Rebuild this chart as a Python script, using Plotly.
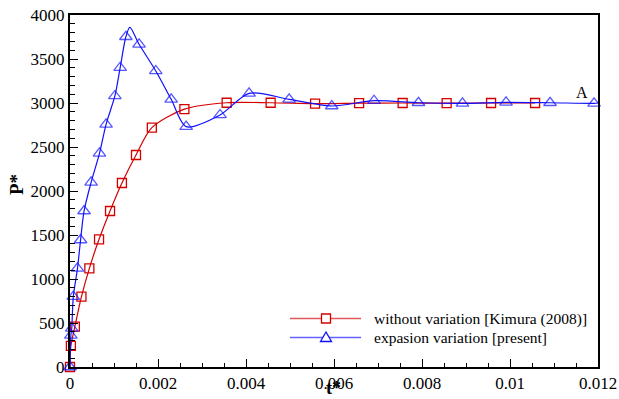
import plotly.graph_objects as go

# Dimensionless time and pressure, reference case (Kimura 2008)
t_kimura = [0.0, 0.00002, 0.00011, 0.00026, 0.00044, 0.00066, 0.00091, 0.00118,
            0.0015, 0.00186, 0.0026, 0.00356, 0.00456, 0.00557, 0.00657, 0.00756,
            0.00856, 0.00957, 0.01057]
p_kimura = [0, 239, 458, 799, 1121, 1451, 1773, 2091,
            2409, 2720, 2930, 3003, 3003, 2992, 2998, 3000,
            2998, 3000, 3000]

# Dimensionless time and pressure with expansion variation (present model)
t_present = [0.0, 0.00002, 0.00004, 0.000075, 0.00017, 0.00024, 0.00032, 0.00048,
             0.00067, 0.00082, 0.00102, 0.00114, 0.00127, 0.00136, 0.00157, 0.00195,
             0.0023, 0.00264, 0.00341, 0.00407, 0.00498, 0.00595, 0.00691, 0.00792,
             0.00892, 0.00991, 0.01091, 0.01191, 0.012]
p_present = [0, 360, 440, 799, 1121, 1443, 1773, 2099,
             2428, 2758, 3080, 3401, 3753, 3860, 3667, 3364,
             3042, 2731, 2864, 3110, 3042, 2966, 3026, 3003,
             2996, 3008, 3003, 2996, 3000]
# symbol drawn at every stored point except the curve peak and the end point
present_symbol = [True] * 13 + [False] + [True] * 14 + [False]

x_ticks = [0, 0.002, 0.004, 0.006, 0.008, 0.01, 0.012]
x_tick_text = ["0", "0.002", "0.004", "0.006", "0.008", "0.01", "0.012"]
y_ticks = [0, 500, 1000, 1500, 2000, 2500, 3000, 3500, 4000]

label_kimura = "without variation [Kimura (2008)]"
label_present = "expasion variation [present]"

RED = "#d40000"
BLUE = "#1010ff"
SERIF = "Liberation Serif"

fig = go.Figure()

fig.add_trace(go.Scatter(
    x=t_kimura, y=p_kimura, mode="lines+markers", name=label_kimura,
    line=dict(color=RED, width=1.2, shape="spline", smoothing=0.8),
    marker=dict(symbol="square-open", size=9, color=RED, line=dict(width=1.3)),
    showlegend=False, cliponaxis=False,
))

fig.add_trace(go.Scatter(
    x=t_present, y=p_present, mode="lines+markers", name=label_present,
    line=dict(color=BLUE, width=1.2, shape="spline", smoothing=0.8),
    marker=dict(symbol="triangle-up-open", size=[11 if s else 0 for s in present_symbol],
                color=BLUE, line=dict(width=1.3)),
    showlegend=False, cliponaxis=False,
))

# plot area in pixels: x 70..598, y 15..367
L, R, T, B = 70, 21, 15, 32
W, H = 619, 399
pw, ph = W - L - R, H - T - B


def px(x):
    return (x - L) / pw


def py(y):
    return (H - B - y) / ph


shapes = []
annotations = []

# legend block
leg_rows = [(318.5, RED, label_kimura, "square"), (337.5, BLUE, label_present, "triangle")]
for yy, col, text, sym in leg_rows:
    shapes.append(dict(type="line", xref="paper", yref="paper",
                       x0=px(290), x1=px(361), y0=py(yy), y1=py(yy),
                       line=dict(color=col, width=1.4), opacity=0.65))
    if sym == "square":
        shapes.append(dict(type="rect", xref="paper", yref="paper",
                           x0=px(321.5), x1=px(330.5), y0=py(yy + 4.5), y1=py(yy - 4.5),
                           line=dict(color=col, width=1.3), fillcolor="white"))
    else:
        path = (f"M {px(320.5)} {py(yy + 4)} L {px(331.5)} {py(yy + 4)} "
                f"L {px(326)} {py(yy - 5.5)} Z")
        shapes.append(dict(type="path", xref="paper", yref="paper", path=path,
                           line=dict(color=col, width=1.3), fillcolor="white"))
    annotations.append(dict(x=px(372), y=py(yy), xref="paper", yref="paper",
                            text=text, showarrow=False, xanchor="left", yanchor="middle",
                            font=dict(family=SERIF, size=15.5, color="black")))

# axis titles
annotations.append(dict(x=px(16), y=py(185), xref="paper", yref="paper", text="<b>P*</b>",
                        textangle=-90, showarrow=False, xanchor="center", yanchor="middle",
                        font=dict(family=SERIF, size=19, color="black")))
annotations.append(dict(x=px(333), y=py(387.5), xref="paper", yref="paper", text="<b>t*</b>",
                        showarrow=False, xanchor="center", yanchor="middle", borderpad=0,
                        font=dict(family=SERIF, size=18, color="black")))
# point label
annotations.append(dict(x=0.01163, y=3114, xref="x", yref="y", text="A", showarrow=False,
                        xanchor="center", yanchor="middle",
                        font=dict(family=SERIF, size=16, color="black")))

axis_common = dict(
    showgrid=False, zeroline=False, showline=True, linecolor="black", linewidth=2,
    mirror=True, ticks="inside", ticklen=8, tickwidth=1.4, tickcolor="black",
    tickfont=dict(family=SERIF, size=17, color="black"), automargin=False,
)

fig.update_layout(
    width=W, height=H,
    margin=dict(l=L, r=R, t=T, b=B, autoexpand=False),
    paper_bgcolor="white", plot_bgcolor="white",
    showlegend=False,
    xaxis=dict(range=[0, 0.012], tickvals=x_ticks, ticktext=x_tick_text,
               minor=dict(dtick=0.0005, ticks="inside", ticklen=4, tickwidth=1.2,
                          tickcolor="black"),
               **axis_common),
    yaxis=dict(range=[0, 4000], tickvals=y_ticks,
               minor=dict(dtick=100, ticks="inside", ticklen=5, tickwidth=1.2,
                          tickcolor="black"),
               **axis_common),
    shapes=shapes,
    annotations=annotations,
)

fig.write_html("out.html")
